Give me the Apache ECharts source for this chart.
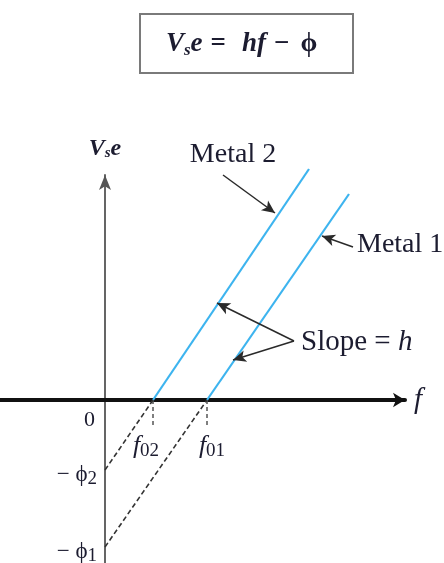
<!DOCTYPE html>
<html>
<head>
<meta charset="utf-8">
<script src="https://cdn.jsdelivr.net/npm/echarts@6/dist/echarts.min.js"></script>
<style>
  html, body { margin: 0; padding: 0; background: #fff; }
  #chart { width: 444px; height: 563px; }
</style>
</head>
<body>
<div id="chart"></div>
<script>
// Photoelectric effect: stopping energy Vs·e against light frequency f for two metals.
const metalNames = ['Metal 2', 'Metal 1'];
const cutoffFreq = [4.8, 10.2];        // f0: where each line meets Vs·e = 0
const workFunction = [7.0, 14.7];      // ϕ: each line extended back hits −ϕ at f = 0
const topFreq = [20.4, 24.4];          // upper end of each drawn line
const topEnergy = [23.1, 20.6];
const freqTickSubs = ['02', '01'];     // subscripts for the f0 tick labels
const energyTickSubs = ['2', '1'];     // subscripts for the −ϕ tick labels

const FONT = "'Liberation Serif', 'DejaVu Serif', serif";
const INK = '#1c1c30';
const BLUE = '#3db4ef';

const txt = (size, italic, bold) => ({
  fontFamily: FONT, fontSize: size, color: INK,
  fontWeight: bold ? 'bold' : 'normal',
  fontStyle: italic ? 'italic' : 'normal'
});
const pad = (style, p) => Object.assign(style, { padding: p });

const series = [];
metalNames.forEach((name, i) => {
  series.push({
    name: name, type: 'line', symbol: 'none', clip: false, silent: true,
    lineStyle: { color: BLUE, width: 2.2 },
    data: [[cutoffFreq[i], 0], [topFreq[i], topEnergy[i]]]
  });
  series.push({
    name: name + ' extrapolation', type: 'line', symbol: 'none', clip: false, silent: true,
    lineStyle: { color: '#333', width: 1.6, type: [5, 3] },
    data: [[0, -workFunction[i]], [cutoffFreq[i], 0]]
  });
});

// callout arrows and their texts
series.push({
  name: 'callouts', type: 'scatter', symbolSize: 0, clip: false, silent: true,
  itemStyle: { opacity: 1 },
  data: [
    { name: 'Metal 2', value: [12.8, 24.5], label: { position: 'inside', formatter: '{m|Metal 2}' } },
    { name: 'Metal 1', value: [25.2, 15.5], label: { position: 'right', distance: 0, formatter: '{m|Metal 1}' } },
    { name: 'Slope', value: [19.6, 5.8], label: { position: 'right', distance: 0, formatter: '{r|Slope = }{i|h}' } }
  ],
  label: {
    show: true, color: INK, opacity: 1,
    rich: { m: txt(28, false), r: txt(29, false), i: txt(29, true) }
  },
  markLine: {
    silent: true, animation: false,
    symbol: ['none', 'arrow'], symbolSize: [9, 13],
    label: { show: false },
    lineStyle: { color: '#2a2a2a', width: 1.5, type: 'solid' },
    data: [
      [{ coord: [11.8, 22.5] }, { coord: [17.0, 18.7] }],
      [{ coord: [24.8, 15.3] }, { coord: [21.7, 16.4] }],
      [{ coord: [18.9, 5.9] }, { coord: [11.2, 9.7] }],
      [{ coord: [18.9, 5.9] }, { coord: [12.8, 4.0] }]
    ]
  }
});

const chart = echarts.init(document.getElementById('chart'), null, { renderer: 'canvas' });
chart.setOption({
  animation: false,
  backgroundColor: '#fff',
  title: {
    text: '{i|V}{s|s}{i|e}{eq|=}{hf|hf}{mi|−}{ph|ϕ}',
    left: 140, top: 13,
    padding: [17, 36, 14, 26],
    borderColor: '#7a7a7a', borderWidth: 2,
    textStyle: {
      fontWeight: 'normal',
      rich: {
        i: txt(27, true, true),
        s: pad(txt(17, true, true), [12, 0, 0, 0]),
        eq: pad(txt(27, false, true), [0, 0, 0, 8]),
        hf: pad(txt(27, true, true), [0, 0, 0, 16]),
        mi: pad(txt(27, false, true), [0, 0, 0, 8]),
        ph: pad(txt(27, false, true), [0, 0, 0, 11])
      }
    }
  },
  grid: { left: 0, right: 39, top: 175, bottom: 0, containLabel: false, outerBoundsMode: 'none' },
  xAxis: {
    type: 'value', min: -10.5, max: 30,
    position: 'bottom', offset: -163,
    splitLine: { show: false },
    axisLine: {
      onZero: false, symbol: ['none', 'arrow'], symbolSize: [11, 12],
      lineStyle: { color: '#111', width: 4 }
    },
    axisTick: {
      show: true, customValues: cutoffFreq, length: 28,
      lineStyle: { color: '#555', width: 1.5, type: [4, 3] }
    },
    axisLabel: {
      customValues: cutoffFreq, margin: 32,
      formatter: (v) => {
        const i = cutoffFreq.indexOf(v);
        return i === 0 ? '{a|f}{as|' + freqTickSubs[i] + '}' : '{b|f}{bs|' + freqTickSubs[i] + '}';
      },
      rich: {
        a: txt(26, true),
        as: pad(txt(19, false), [10, 14, 0, 0]),
        b: pad(txt(26, true), [0, 0, 0, 10]),
        bs: pad(txt(19, false), [10, 0, 0, 0])
      }
    },
    name: '{i|f}', nameLocation: 'end', nameGap: 9,
    nameTextStyle: { rich: { i: txt(29, true) } }
  },
  yAxis: {
    type: 'value', min: -16.3, max: 22.5,
    position: 'left', offset: -105,
    splitLine: { show: false },
    axisLine: {
      onZero: false, symbol: ['none', 'arrow'], symbolSize: [9, 15],
      lineStyle: { color: '#555', width: 1.8 }
    },
    axisTick: { show: false },
    axisLabel: {
      customValues: [0, -workFunction[0], -workFunction[1]], margin: 8,
      formatter: (v) => {
        if (v === 0) return '{z|0}';
        const i = workFunction.indexOf(-v);
        return '{r|− ϕ}{s|' + energyTickSubs[i] + '}';
      },
      rich: {
        z: pad(txt(22, false), [40, 2, 0, 0]),
        r: pad(txt(23, false), [10, 0, 0, 0]),
        s: pad(txt(19, false), [18, 0, 0, 0])
      }
    },
    name: '{i|V}{s|s}{i|e}', nameLocation: 'end', nameGap: 14,
    nameTextStyle: { rich: { i: txt(24, true, true), s: pad(txt(15, true, true), [10, 0, 0, 0]) } }
  },
  series: series
});
</script>
</body>
</html>
